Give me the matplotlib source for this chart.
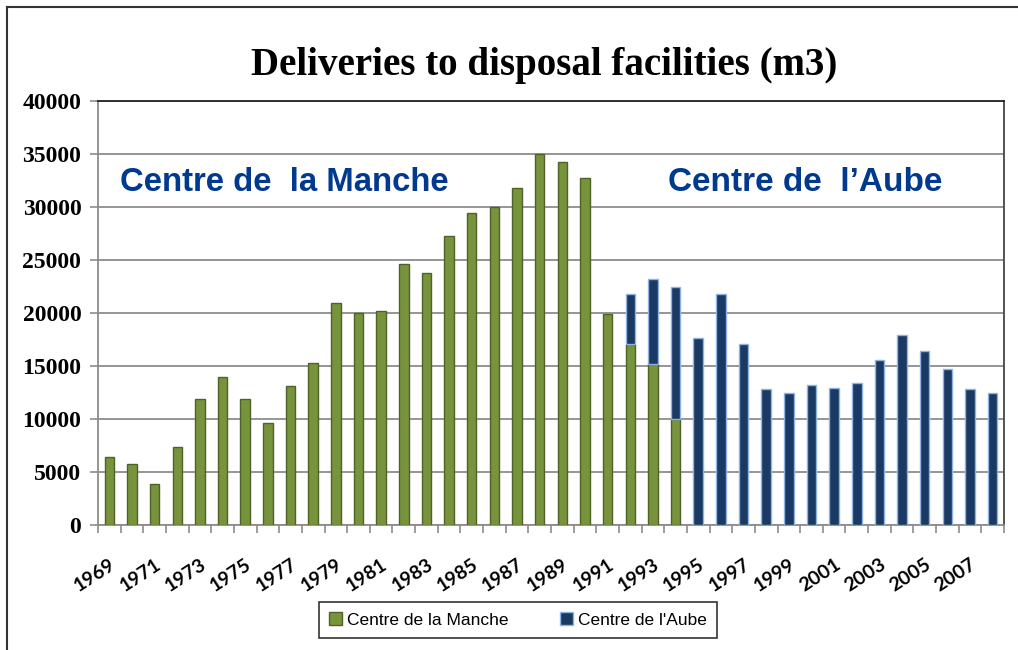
import matplotlib
matplotlib.use("Agg")
import matplotlib.pyplot as plt
import numpy as np
from matplotlib.lines import Line2D

years = list(range(1969, 2009))
manche = [6400, 5800, 3900, 7400, 11900, 14000, 11900, 9600, 13100, 15250,
          20900, 20000, 20200, 24600, 23800, 27300, 29400, 30000, 31800, 35000,
          34200, 32700, 19900, 17100, 15200, 10000, 0, 0, 0, 0,
          0, 0, 0, 0, 0, 0, 0, 0, 0, 0]
aube = [0] * 23 + [4700, 8000, 12500, 17600, 21800, 17100, 12800,
                   12500, 13200, 12900, 13400, 15600, 17900, 16400, 14700,
                   12800, 12500]
series_names = ["Centre de la Manche", "Centre de l'Aube"]
title = "Deliveries to disposal facilities (m3)"
yticks = [0, 5000, 10000, 15000, 20000, 25000, 30000, 35000, 40000]

W, H = 1018, 650
fig = plt.figure(figsize=(W / 100, H / 100), dpi=100)
ax = fig.add_axes([98 / W, 1 - 525 / H, (1004 - 98) / W, (525 - 101) / H])

x = np.arange(len(years))
m = np.array(manche, dtype=float)
a = np.array(aube, dtype=float)
bw = 0.42
green, green_edge = "#77933C", "#4F6228"
blue, blue_edge = "#1B3A63", "#8DB3E2"
gm = m > 0
am = a > 0
ax.bar(x[gm], m[gm], bw, color=green, edgecolor=green_edge, linewidth=1.0,
       label=series_names[0], zorder=3)
ax.bar(x[am], a[am], bw, bottom=m[am], color=blue, edgecolor=blue_edge,
       linewidth=1.0, label=series_names[1], zorder=3)

ax.set_xlim(-0.5, len(years) - 0.5)
ax.set_ylim(0, 40000)
ax.set_yticks(yticks)
ax.set_yticklabels([str(v) for v in yticks], fontfamily="Liberation Serif",
                   fontweight="bold", fontsize=17)
ax.yaxis.grid(True, color="#8C8C8C", linewidth=1.3, zorder=0)
ax.set_axisbelow(True)

ax.set_xticks(x[::2])
ax.set_xticklabels([str(y) for y in years[::2]], rotation=33,
                   ha="right", va="top", rotation_mode="anchor",
                   fontfamily="Lato", fontweight="bold", fontsize=14)
ax.tick_params(axis="x", which="major", length=0, pad=22)
ax.set_xticks(np.arange(-0.5, len(years), 1), minor=True)
ax.tick_params(axis="x", which="minor", length=6, color="#8C8C8C", width=1.2,
               direction="out")
ax.tick_params(axis="y", length=6, color="#8C8C8C", width=1.2, pad=6)

for s in ["left", "bottom"]:
    ax.spines[s].set_color("#8C8C8C")
    ax.spines[s].set_linewidth(1.3)
ax.spines["top"].set_color("#222222")
ax.spines["top"].set_linewidth(1.3)
ax.spines["right"].set_color("#444444")
ax.spines["right"].set_linewidth(1.3)

ax.text(0.024, 0.807, "Centre de  la Manche", transform=ax.transAxes,
        fontfamily="Liberation Sans", fontweight="bold", fontsize=23.7,
        color="#003A8F", va="center", ha="left")
ax.text(0.629, 0.807, "Centre de  l\u2019Aube", transform=ax.transAxes,
        fontfamily="Liberation Sans", fontweight="bold", fontsize=24,
        color="#003A8F", va="center", ha="left")

fig.text(544 / W, 1 - 65 / H, title, fontfamily="Liberation Serif",
         fontweight="bold", fontsize=28, ha="center", va="center")

leg = fig.legend(loc="center", bbox_to_anchor=(518 / W, 1 - 620 / H),
                 ncol=2, frameon=True, fancybox=False, edgecolor="black",
                 prop={"family": "Liberation Sans", "size": 12.5},
                 handlelength=0.7, handleheight=0.7, handletextpad=0.3,
                 columnspacing=3.0, borderpad=0.6, borderaxespad=0)
leg.get_frame().set_linewidth(1.2)

# outer border (left and top)
fig.add_artist(Line2D([7 / W, 7 / W], [0, 1 - 7 / H], transform=fig.transFigure,
                      color="#333333", linewidth=1.5))
fig.add_artist(Line2D([7 / W, 1], [1 - 7 / H, 1 - 7 / H],
                      transform=fig.transFigure, color="#333333", linewidth=1.5))

fig.savefig("out.png", dpi=100)
